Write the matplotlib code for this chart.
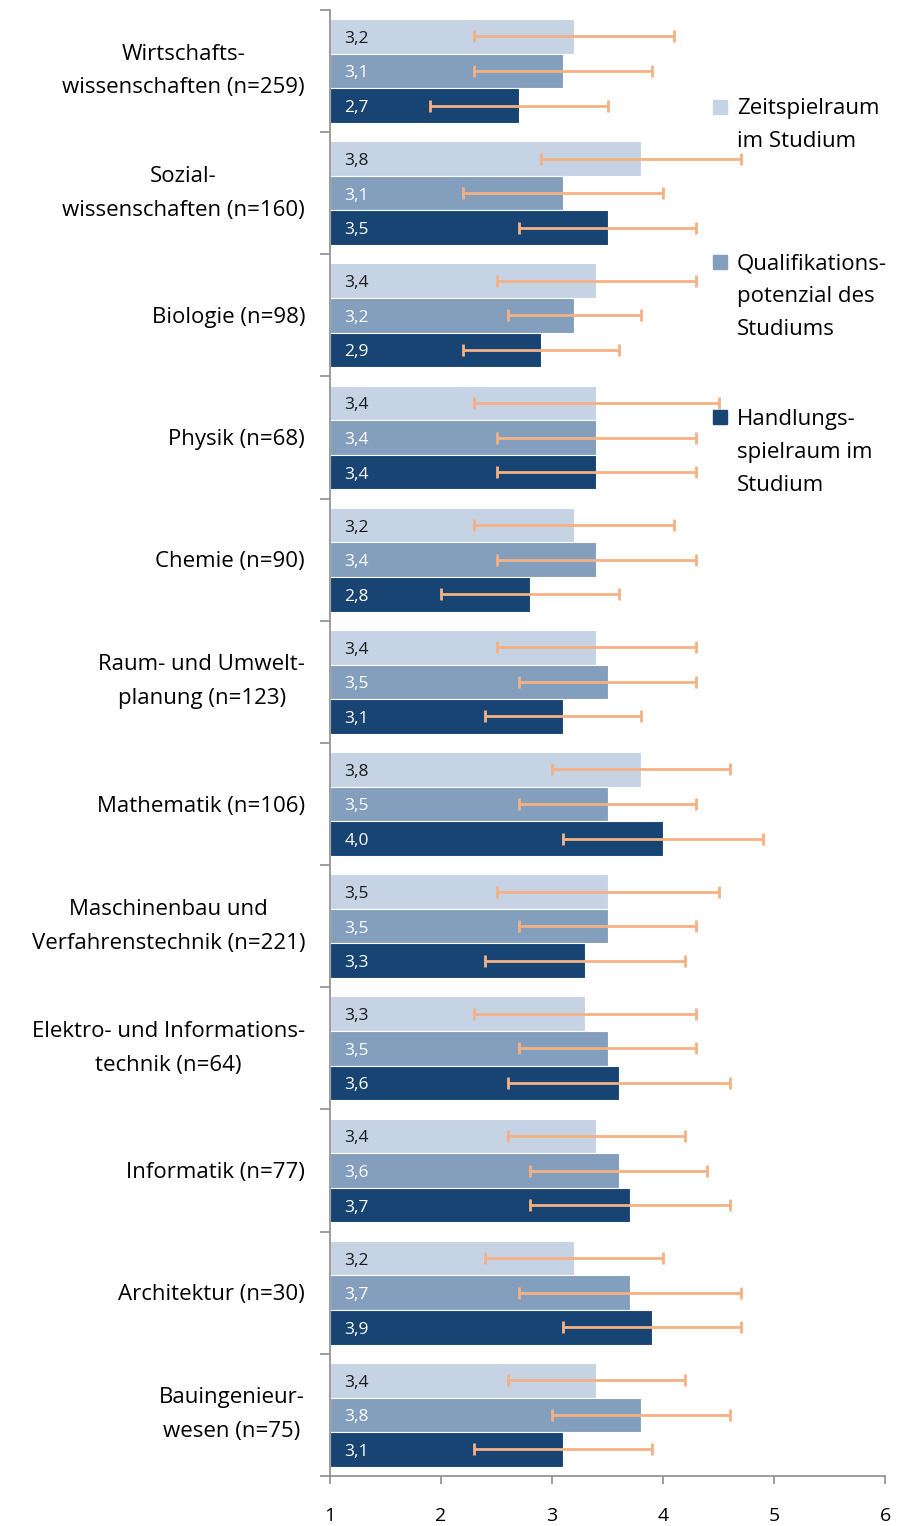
import numpy as np
import matplotlib
matplotlib.use("Agg")
from matplotlib import pyplot as plt

plt.rcParams['font.family'] = ['Open Sans', 'DejaVu Sans']

# Categories (top to bottom)
categories = [
    "Wirtschafts-\nwissenschaften (n=259)",
    "Sozial-\nwissenschaften (n=160)",
    "Biologie (n=98)",
    "Physik (n=68)",
    "Chemie (n=90)",
    "Raum- und Umwelt-\nplanung (n=123)",
    "Mathematik (n=106)",
    "Maschinenbau und\nVerfahrenstechnik (n=221)",
    "Elektro- und Informations-\ntechnik (n=64)",
    "Informatik (n=77)",
    "Architektur (n=30)",
    "Bauingenieur-\nwesen (n=75)",
]

series_names = [
    "Zeitspielraum\nim Studium",
    "Qualifikations-\npotenzial des\nStudiums",
    "Handlungs-\nspielraum im\nStudium",
]

zeit = [3.2, 3.8, 3.4, 3.4, 3.2, 3.4, 3.8, 3.5, 3.3, 3.4, 3.2, 3.4]
qual = [3.1, 3.1, 3.2, 3.4, 3.4, 3.5, 3.5, 3.5, 3.5, 3.6, 3.7, 3.8]
hand = [2.7, 3.5, 2.9, 3.4, 2.8, 3.1, 4.0, 3.3, 3.6, 3.7, 3.9, 3.1]

# standard deviations (error bars)
zeit_sd = [0.9, 0.9, 0.9, 1.1, 0.9, 0.9, 0.8, 1.0, 1.0, 0.8, 0.8, 0.8]
qual_sd = [0.8, 0.9, 0.6, 0.9, 0.9, 0.8, 0.8, 0.8, 0.8, 0.8, 1.0, 0.8]
hand_sd = [0.8, 0.8, 0.7, 0.9, 0.8, 0.7, 0.9, 0.9, 1.0, 0.9, 0.8, 0.8]

colors = ["#C5D3E4", "#849EBD", "#174472"]
label_colors = ["#1a1a1a", "white", "white"]
err_color = "#F5B183"

fig = plt.figure(figsize=(9, 15.26), dpi=100)
ax = fig.add_axes([0.3667, 0.0328, 0.6167, 0.9607])

y = np.arange(len(categories))
h = 0.283
offsets = [-h, 0, h]
base = 1

for vals, sds, off, col, lc in zip([zeit, qual, hand], [zeit_sd, qual_sd, hand_sd],
                                   offsets, colors, label_colors):
    vals = np.array(vals)
    ax.barh(y + off, vals - base, left=base, height=h, color=col,
            edgecolor="white", linewidth=0.8, zorder=2)
    ax.errorbar(vals, y + off, xerr=sds, fmt="none", ecolor=err_color,
                elinewidth=2.0, capsize=4, capthick=2.0, zorder=3)
    for yi, v in zip(y + off, vals):
        ax.text(1.13, yi + 0.02, f"{v:.1f}".replace(".", ","), color=lc,
                fontsize=12.5, ha="left", va="center", zorder=4)

ax.set_xlim(1, 6)
ax.set_ylim(len(categories) - 0.5, -0.5)

# x axis
ax.set_xticks([1, 2, 3, 4, 5, 6])
ax.set_xticklabels(["1", "2", "3", "4", "5", "6"], fontsize=14)
ax.tick_params(axis="x", direction="out", length=6, color="#8c8c8c", width=1.2, pad=16)

# y axis: boundary ticks only, category labels as annotations
ax.set_yticks(np.arange(-0.5, len(categories), 1.0))
ax.set_yticklabels([])
ax.tick_params(axis="y", direction="out", length=7, color="#8c8c8c", width=1.2)

trans = ax.get_yaxis_transform()
for yi, cat in zip(y, categories):
    dy = 0 if "\n" in cat else -1.5
    ax.annotate(cat, xy=(0, yi), xycoords=trans, xytext=(-18, dy),
                textcoords="offset points", fontsize=16, ha="right", va="center",
                multialignment="center", linespacing=1.8, annotation_clip=False)

for s in ["top", "right"]:
    ax.spines[s].set_visible(False)
for s in ["left", "bottom"]:
    ax.spines[s].set_color("#8c8c8c")
    ax.spines[s].set_linewidth(1.2)

# legend drawn manually (square aligned with first text line)
leg_y = [0.934, 0.828, 0.722]
for name, col, ly in zip(series_names, colors, leg_y):
    ax.plot([0.703], [ly], marker="s", markersize=10, color=col,
            transform=ax.transAxes, clip_on=False, zorder=5)
    ax.text(0.733, ly + 0.006, name, transform=ax.transAxes, fontsize=16,
            ha="left", va="top", linespacing=1.75)

fig.savefig("out.png", dpi=100)
